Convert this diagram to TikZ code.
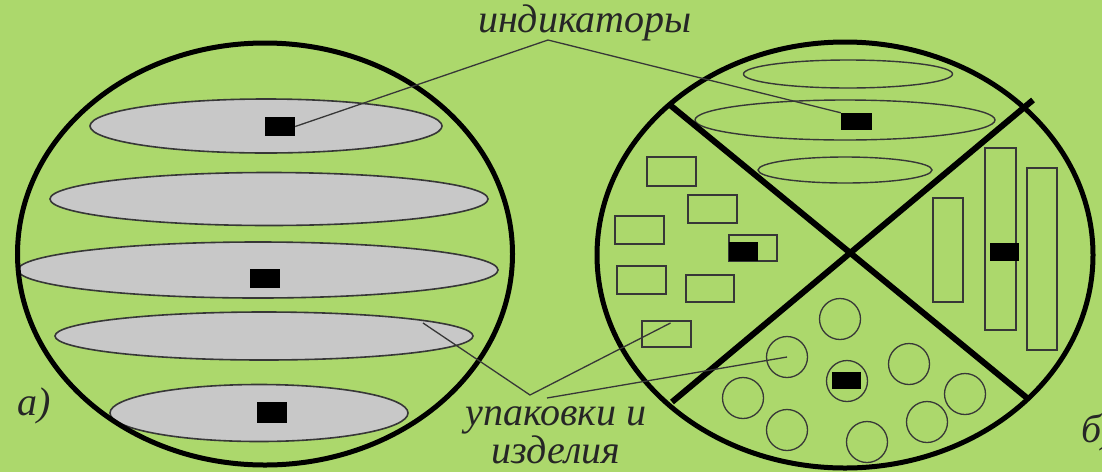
\documentclass[tikz,border=0pt]{standalone}
\usepackage{fontspec}
\setmainfont{Liberation Serif}
\usetikzlibrary{shapes.geometric,calc}
\definecolor{bg}{RGB}{172,216,108}
\definecolor{gfill}{RGB}{200,200,200}
\definecolor{gline}{RGB}{55,55,55}
\begin{document}
\begin{tikzpicture}[x=1pt,y=-1pt,
  sz/.style 2 args={minimum width=#1pt, minimum height=#2pt},
  bigring/.style={ellipse, draw=black, line width=5pt, inner sep=0pt, sz={495}{422}},
  disc/.style={ellipse, draw=gline, fill=gfill, line width=1.6pt, inner sep=0pt},
  ring/.style={ellipse, draw=gline, line width=1.4pt, inner sep=0pt},
  box/.style={rectangle, draw=gline, line width=1.4pt, inner sep=0pt},
  ind/.style={rectangle, fill=black, inner sep=0pt},
  pkg/.style={circle, draw=gline, line width=1.3pt, inner sep=0pt, minimum size=41pt},
  lbl/.style={font=\fontsize{40}{35}\selectfont\itshape, text=black!85, inner sep=0pt},
  lead/.style={draw=gline, line width=1.3pt},
  divider/.style={draw=black, line width=6pt}]
\useasboundingbox (0,0) rectangle (1102,472);
\fill[bg] (0,0) rectangle (1102,472);

% ---- left figure (a)
\node[disc, sz={352}{54}] (l1) at (266,126) {};
\node[disc, sz={438}{53}] (l2) at (269,199) {};
\node[disc, sz={480}{56}] (l3) at (258,270) {};
\node[disc, sz={418}{48}] (l4) at (264,336) {};
\node[disc, sz={298}{57}] (l5) at (259,413) {};
\node[ind, sz={30}{19}] (ia1) at (280,126.5) {};
\node[ind, sz={30}{19}] (ia2) at (265,278.5) {};
\node[ind, sz={30}{21}] (ia3) at (272,412.5) {};
\node[bigring] (lc) at (265,254) {};

% ---- right figure (b)
\node[ring, sz={209}{28}] (e1) at (848,74) {};
\node[ring, sz={300}{40}] (e2) at (845,120) {};
\node[ring, sz={174}{26}] (e3) at (845,170) {};
\node[ind, sz={31}{17}] (ib1) at (856.5,121.5) {};

\node[box, sz={49}{29}] (r1) at (671.5,171.5) {};
\node[box, sz={49}{28}] (r2) at (712.5,209) {};
\node[box, sz={49}{28}] (r3) at (639.5,230) {};
\node[box, sz={48}{26}] (r4) at (753,248) {};
\node[box, sz={49}{28}] (r5) at (641.5,280) {};
\node[box, sz={48}{27}] (r6) at (710,288.5) {};
\node[box, sz={49}{26}] (r7) at (666.5,334) {};
\node[ind, sz={29}{19}] (ib2) at (743.5,251.5) {};

\node[box, sz={30}{104}] (t1) at (948,250) {};
\node[box, sz={31}{182}] (t2) at (1000.5,239) {};
\node[box, sz={30}{182}] (t3) at (1042,259) {};
\node[ind, sz={29}{18}] (ib3) at (1004.5,252) {};

\node[pkg] (c1) at (840,319) {};
\node[pkg] (c2) at (787,357) {};
\node[pkg] (c3) at (847,381) {};
\node[pkg] (c4) at (909,364) {};
\node[pkg] (c5) at (743,398) {};
\node[pkg] (c6) at (787,430) {};
\node[pkg] (c7) at (867,442) {};
\node[pkg] (c8) at (927,422) {};
\node[pkg] (c9) at (965,394) {};
\node[ind, sz={29}{17}] (ib4) at (846.5,380.5) {};

\node[bigring, sz={496}{426}] (rc) at (845,255) {};
\coordinate (d1a) at (670,105);
\coordinate (d1b) at (1027,398);
\coordinate (d2a) at (1033,100);
\coordinate (d2b) at (672,402);
\draw[divider] (d1a) -- (d1b);
\draw[divider] (d2a) -- (d2b);

% ---- labels and leaders
\node[lbl, anchor=base] (indlbl) at (585,32) {индикаторы};
\node[lbl, align=center, anchor=base] (pk) at (556,463) {упаковки и\\изделия};
\node[lbl, anchor=base] (la) at (34,415) {а)};
\node[lbl, anchor=base west] (lb) at (1081,442) {б)};

\coordinate (apx1) at (548,40);
\draw[lead] (ia1.east) -- (apx1) -- (ib1.north west);
\coordinate (apx2) at (530,395);
\coordinate (apx3) at (547,398);
\draw[lead] ($(l4.center)+(159,-13)$) -- (apx2) -- ($(r7.center)+(4,-11)$);
\draw[lead] (apx3) -- (c2.center);
\end{tikzpicture}
\end{document}
